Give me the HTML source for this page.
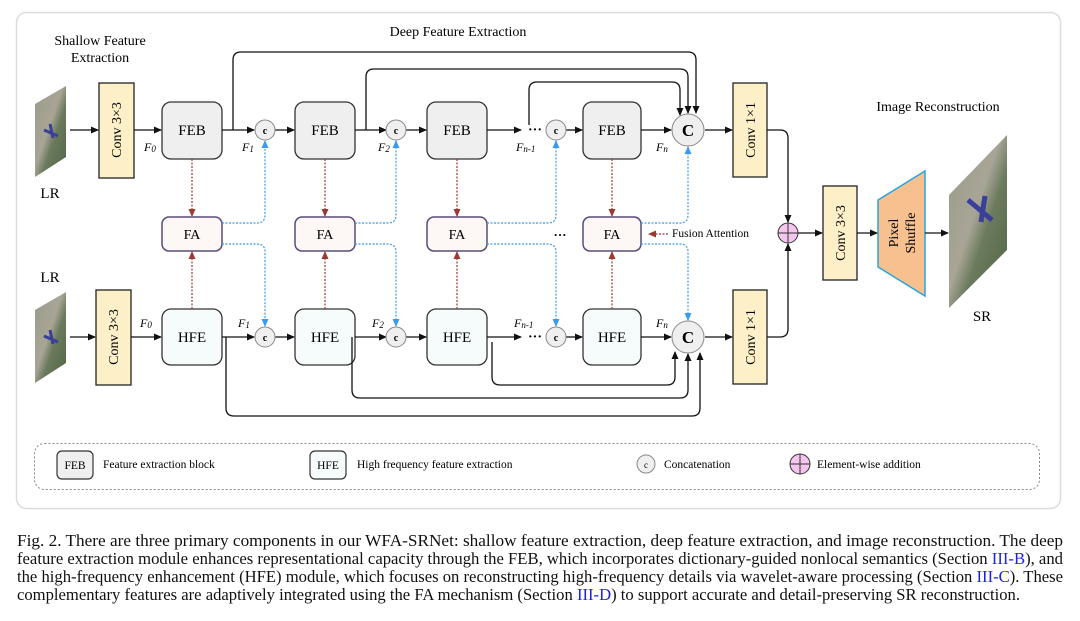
<!DOCTYPE html>
<html><head><meta charset="utf-8"><style>
html,body{margin:0;padding:0;background:#fff;}
svg{display:block;font-family:"Liberation Serif",serif;}
</style></head><body>
<svg width="1080" height="621" viewBox="0 0 1080 621" xmlns="http://www.w3.org/2000/svg">
<defs>
<marker id="ak" markerWidth="8" markerHeight="8" refX="7" refY="4" orient="auto" markerUnits="userSpaceOnUse"><path d="M0,0.5 L8,4 L0,7.5 Z" fill="#111"/></marker>
<marker id="ab" markerWidth="8" markerHeight="8" refX="7" refY="4" orient="auto" markerUnits="userSpaceOnUse"><path d="M0,0.5 L8,4 L0,7.5 Z" fill="#3a9bf0"/></marker>
<marker id="ar" markerWidth="8" markerHeight="8" refX="7" refY="4" orient="auto" markerUnits="userSpaceOnUse"><path d="M0,0.5 L8,4 L0,7.5 Z" fill="#9a3a30"/></marker>
<linearGradient id="img" x1="0" y1="0" x2="1" y2="1"><stop offset="0" stop-color="#9a9a88"/><stop offset="0.45" stop-color="#a8a596"/><stop offset="0.6" stop-color="#6b7a5c"/><stop offset="1" stop-color="#4f6544"/></linearGradient>
</defs>
<rect x="16.5" y="12.5" width="1044" height="496" rx="10" fill="#fff" stroke="#dcdcdc" stroke-width="1.5"/>

<text x="100" y="45" font-size="14" text-anchor="middle">Shallow Feature</text>
<text x="100" y="62" font-size="14" text-anchor="middle">Extraction</text>
<text x="458" y="36" font-size="14" text-anchor="middle">Deep Feature Extraction</text>
<text x="938" y="111" font-size="14" text-anchor="middle">Image Reconstruction</text>

<polygon points="35,104 66,86 66,157 35,177" fill="url(#img)"/>
<path d="M44,130 l14,6 M50,124 l3,14" stroke="#3a3f9a" stroke-width="3"/>
<text x="50" y="198" font-size="15" text-anchor="middle">LR</text>
<polygon points="35,310 66,292 66,363 35,383" fill="url(#img)"/>
<path d="M44,336 l14,6 M50,330 l3,14" stroke="#3a3f9a" stroke-width="3"/>
<text x="50" y="282" font-size="15" text-anchor="middle">LR</text>
<polygon points="949,195 1007,135 1007,250 949,308" fill="url(#img)"/>
<path d="M968,200 l24,20 M985,196 l-4,26" stroke="#3a3f9a" stroke-width="5"/>
<text x="982" y="321" font-size="15" text-anchor="middle">SR</text>

<g fill="#fdf0c8" stroke="#222" stroke-width="1.3">
<rect x="99" y="83" width="35" height="95"/>
<rect x="96" y="290" width="35" height="95"/>
<rect x="733" y="83" width="34" height="94"/>
<rect x="733" y="290" width="34" height="94"/>
<rect x="823" y="186" width="34" height="94"/>
</g>
<g font-size="14" text-anchor="middle">
<text transform="translate(121,130) rotate(-90)">Conv 3×3</text>
<text transform="translate(118,337) rotate(-90)">Conv 3×3</text>
<text transform="translate(755,130) rotate(-90)">Conv 1×1</text>
<text transform="translate(755,337) rotate(-90)">Conv 1×1</text>
<text transform="translate(845,233) rotate(-90)">Conv 3×3</text>
</g>
<polygon points="878,200 925,171 925,296 878,267" fill="#f7c08f" stroke="#2aa4e0" stroke-width="1.5"/>
<text transform="translate(898,233) rotate(-90)" font-size="14" text-anchor="middle">Pixel</text>
<text transform="translate(915,233) rotate(-90)" font-size="14" text-anchor="middle">Shuffle</text>

<g stroke="#333" stroke-width="1.3">
<rect x="162" y="102" width="60" height="57" rx="9" fill="#efefef"/>
<rect x="295" y="102" width="60" height="57" rx="9" fill="#efefef"/>
<rect x="427" y="102" width="60" height="57" rx="9" fill="#efefef"/>
<rect x="583" y="102" width="58" height="57" rx="9" fill="#efefef"/>
<rect x="162" y="309" width="60" height="56" rx="9" fill="#f6fbfc"/>
<rect x="295" y="309" width="60" height="56" rx="9" fill="#f6fbfc"/>
<rect x="427" y="309" width="60" height="56" rx="9" fill="#f6fbfc"/>
<rect x="583" y="309" width="58" height="56" rx="9" fill="#f6fbfc"/>
</g>
<g stroke="#5a4a7a" stroke-width="1.5" fill="#fdf8f6">
<rect x="162" y="217" width="60" height="34" rx="7"/>
<rect x="295" y="217" width="60" height="34" rx="7"/>
<rect x="427" y="217" width="60" height="34" rx="7"/>
<rect x="583" y="217" width="58" height="34" rx="7"/>
</g>
<g font-size="15" text-anchor="middle">
<text x="192" y="135">FEB</text><text x="325" y="135">FEB</text><text x="457" y="135">FEB</text><text x="612" y="135">FEB</text>
<text x="192" y="342">HFE</text><text x="325" y="342">HFE</text><text x="457" y="342">HFE</text><text x="612" y="342">HFE</text>
<text x="192" y="239" font-size="14">FA</text><text x="325" y="239" font-size="14">FA</text><text x="457" y="239" font-size="14">FA</text><text x="612" y="239" font-size="14">FA</text>
</g>
<text x="560" y="239" font-size="13" font-weight="bold" text-anchor="middle">···</text>
<text x="672" y="237" font-size="11.5">Fusion Attention</text>
<line x1="668" y1="234" x2="649" y2="234" stroke="#9a3a30" stroke-width="1.2" stroke-dasharray="2,1.5" marker-end="url(#ar)"/>

<g stroke="#111" stroke-width="1.3" fill="none" marker-end="url(#ak)">
<line x1="70" y1="130" x2="98" y2="130"/><line x1="134" y1="130" x2="161" y2="130"/>
<line x1="222" y1="130" x2="254" y2="130"/><line x1="275" y1="130" x2="294" y2="130"/>
<line x1="355" y1="130" x2="386" y2="130"/><line x1="406" y1="130" x2="426" y2="130"/>
<line x1="487" y1="130" x2="521" y2="130"/><line x1="566" y1="130" x2="582" y2="130"/>
<line x1="641" y1="130" x2="671" y2="130"/><line x1="705" y1="130" x2="732" y2="130"/>
<line x1="70" y1="337" x2="95" y2="337"/><line x1="131" y1="337" x2="161" y2="337"/>
<line x1="222" y1="337" x2="254" y2="337"/><line x1="275" y1="337" x2="294" y2="337"/>
<line x1="355" y1="337" x2="386" y2="337"/><line x1="406" y1="337" x2="426" y2="337"/>
<line x1="487" y1="337" x2="521" y2="337"/><line x1="566" y1="337" x2="582" y2="337"/>
<line x1="641" y1="337" x2="671" y2="337"/><line x1="705" y1="337" x2="732" y2="337"/>
<path d="M233,130 V60 Q233,52 241,52 H688 Q696,52 696,60 V113"/>
<path d="M366,130 V77 Q366,69 374,69 H680 Q688,69 688,77 V113"/>
<path d="M529,125 V90 Q529,82 537,82 H672 Q680,82 680,90 V115"/>
<path d="M226,337 V408 Q226,416 234,416 H692 Q700,416 700,408 V353"/>
<path d="M352,337 V390 Q352,398 360,398 H680 Q688,398 688,390 V354"/>
<path d="M492,342 V377 Q492,385 500,385 H667 Q675,385 675,377 V352"/>
<path d="M767,130 H780 Q788,130 788,138 V222"/>
<path d="M767,337 H780 Q788,337 788,329 V244"/>
<line x1="798" y1="233" x2="822" y2="233"/><line x1="857" y1="233" x2="877" y2="233"/>
<line x1="925" y1="233" x2="948" y2="233"/>
</g>
<g font-size="14" font-weight="bold"><text x="528" y="134">···</text><text x="528" y="341">···</text></g>

<g stroke="#9a3a30" stroke-width="1.2" stroke-dasharray="2,1.5" fill="none" marker-end="url(#ar)">
<line x1="192" y1="159" x2="192" y2="216"/><line x1="325" y1="159" x2="325" y2="216"/><line x1="457" y1="159" x2="457" y2="216"/><line x1="612" y1="159" x2="612" y2="216"/>
<line x1="192" y1="309" x2="192" y2="252"/><line x1="325" y1="309" x2="325" y2="252"/><line x1="457" y1="309" x2="457" y2="252"/><line x1="612" y1="309" x2="612" y2="252"/>
</g>
<g stroke="#3a9bf0" stroke-width="1.2" stroke-dasharray="2,1.5" fill="none" marker-end="url(#ab)">
<path d="M222,223 H257 Q265,223 265,215 V141"/><path d="M222,244 H257 Q265,244 265,252 V326"/>
<path d="M355,223 H388 Q396,223 396,215 V141"/><path d="M355,244 H388 Q396,244 396,252 V326"/>
<path d="M487,223 H548 Q556,223 556,215 V141"/><path d="M487,244 H548 Q556,244 556,252 V326"/>
<path d="M641,223 H680 Q688,223 688,215 V147"/><path d="M641,244 H680 Q688,244 688,252 V320"/>
</g>

<g fill="#efefef" stroke="#888" stroke-width="1">
<circle cx="265" cy="130" r="10"/><circle cx="396" cy="130" r="10"/><circle cx="556" cy="130" r="10"/>
<circle cx="265" cy="337" r="10"/><circle cx="396" cy="337" r="10"/><circle cx="556" cy="337" r="10"/>
<circle cx="688" cy="130" r="16"/><circle cx="688" cy="337" r="16"/>
</g>
<g font-size="10" font-weight="bold" text-anchor="middle">
<text x="265" y="134">c</text><text x="396" y="134">c</text><text x="556" y="134">c</text>
<text x="265" y="341">c</text><text x="396" y="341">c</text><text x="556" y="341">c</text>
</g>
<g font-size="17" font-weight="bold" text-anchor="middle"><text x="688" y="136">C</text><text x="688" y="343">C</text></g>
<circle cx="788" cy="233" r="10" fill="#f4c6ee" stroke="#333" stroke-width="1"/>
<path d="M778,233 H798 M788,223 V243" stroke="#333" stroke-width="1"/>

<g font-size="12" font-style="italic">
<text x="144" y="151">F<tspan font-size="9" dy="1">0</tspan></text>
<text x="242" y="151">F<tspan font-size="9" dy="1">1</tspan></text>
<text x="378" y="151">F<tspan font-size="9" dy="1">2</tspan></text>
<text x="516" y="151">F<tspan font-size="9" dy="1">n-1</tspan></text>
<text x="656" y="151">F<tspan font-size="9" dy="1">n</tspan></text>
<text x="140" y="327">F<tspan font-size="9" dy="1">0</tspan></text>
<text x="238" y="327">F<tspan font-size="9" dy="1">1</tspan></text>
<text x="372" y="327">F<tspan font-size="9" dy="1">2</tspan></text>
<text x="514" y="327">F<tspan font-size="9" dy="1">n-1</tspan></text>
<text x="656" y="327">F<tspan font-size="9" dy="1">n</tspan></text>
</g>

<rect x="34.5" y="443.5" width="1005" height="46" rx="10" fill="none" stroke="#888" stroke-dasharray="2,2"/>
<rect x="57" y="451" width="36" height="28" rx="5" fill="#efefef" stroke="#333" stroke-width="1.2"/>
<text x="75" y="469" font-size="11.5" text-anchor="middle">FEB</text>
<text x="103" y="468" font-size="11.5">Feature extraction block</text>
<rect x="310" y="451" width="36" height="28" rx="5" fill="#f6fbfc" stroke="#333" stroke-width="1.2"/>
<text x="328" y="469" font-size="11.5" text-anchor="middle">HFE</text>
<text x="357" y="468" font-size="11.5">High frequency feature extraction</text>
<circle cx="646" cy="464" r="9" fill="#efefef" stroke="#888"/>
<text x="646" y="468" font-size="9" text-anchor="middle">c</text>
<text x="664" y="468" font-size="11.5">Concatenation</text>
<circle cx="800" cy="464" r="10" fill="#f4c6ee" stroke="#333"/>
<path d="M790,464 H810 M800,454 V474" stroke="#333"/>
<text x="817" y="468" font-size="11.5">Element-wise addition</text>

<g font-size="16.5" fill="#111">
<text x="17" y="546" textLength="1046" lengthAdjust="spacingAndGlyphs">Fig. 2.  There are three primary components in our WFA-SRNet: shallow feature extraction, deep feature extraction, and image reconstruction. The deep</text>
<text x="17" y="564" textLength="1046" lengthAdjust="spacingAndGlyphs">feature extraction module enhances representational capacity through the FEB, which incorporates dictionary-guided nonlocal semantics (Section <tspan fill="#2020e0">III-B</tspan>), and</text>
<text x="17" y="582" textLength="1046" lengthAdjust="spacingAndGlyphs">the high-frequency enhancement (HFE) module, which focuses on reconstructing high-frequency details via wavelet-aware processing (Section <tspan fill="#2020e0">III-C</tspan>). These</text>
<text x="17" y="600" textLength="1003" lengthAdjust="spacingAndGlyphs">complementary features are adaptively integrated using the FA mechanism (Section <tspan fill="#2020e0">III-D</tspan>) to support accurate and detail-preserving SR reconstruction.</text>
</g>
</svg>
</body></html>
